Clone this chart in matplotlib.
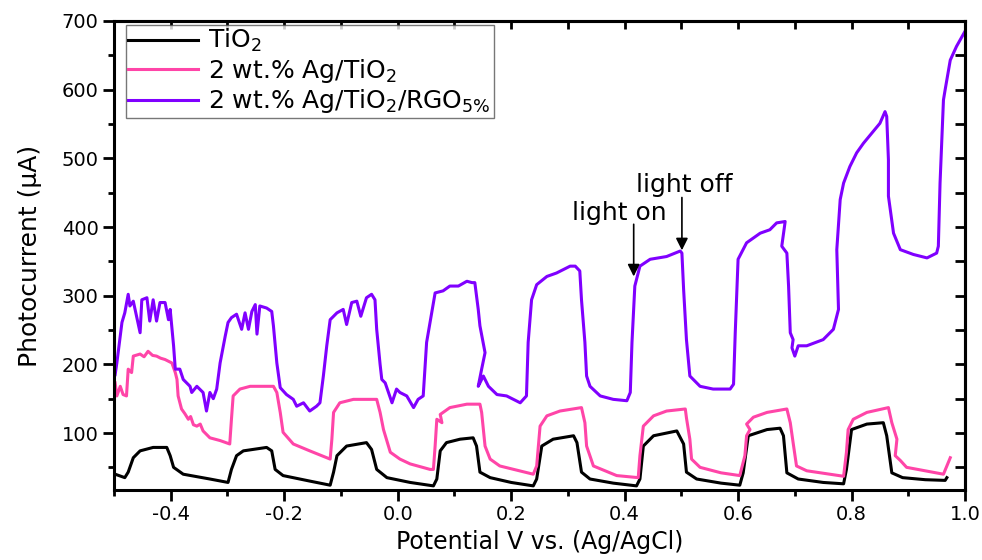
import numpy as np
import matplotlib
matplotlib.use("Agg")
import matplotlib.pyplot as plt

plt.rcParams['font.family'] = ['DejaVu Sans']
plt.rcParams['axes.unicode_minus'] = False

# --- TiO2 (black) ---
tio2_x = [-0.498, -0.481, -0.475, -0.466, -0.454, -0.431, -0.407, -0.401, -0.395, -0.378, -0.331, -0.299,
          -0.293, -0.284, -0.272, -0.231, -0.222, -0.216, -0.202, -0.155, -0.119,
          -0.113, -0.107, -0.090, -0.055, -0.046, -0.037, -0.019, 0.022, 0.063,
          0.069, 0.075, 0.086, 0.110, 0.133, 0.139, 0.145, 0.163, 0.200, 0.239,
          0.245, 0.254, 0.274, 0.310, 0.316, 0.324, 0.339, 0.380, 0.421,
          0.427, 0.433, 0.451, 0.492, 0.504, 0.509, 0.527, 0.570, 0.603,
          0.609, 0.618, 0.651, 0.674, 0.680, 0.686, 0.706, 0.750, 0.786,
          0.791, 0.800, 0.827, 0.856, 0.862, 0.871, 0.890, 0.930, 0.965, 0.968]
tio2_y = [40, 35, 43, 64, 74, 79, 79, 67, 50, 40, 33, 28,
          47, 67, 74, 79, 74, 47, 38, 30, 24,
          43, 67, 81, 86, 76, 47, 35, 28, 23,
          33, 74, 86, 91, 93, 81, 43, 35, 28, 23,
          33, 81, 91, 96, 86, 43, 33, 27, 23,
          33, 81, 96, 103, 84, 43, 33, 27, 24,
          42, 96, 105, 107, 96, 42, 33, 28, 26,
          47, 105, 113, 115, 96, 42, 35, 32, 31, 35]

# --- 2 wt.% Ag/TiO2 (pink) ---
ag_x = [-0.498, -0.495, -0.489, -0.484, -0.478, -0.475, -0.469, -0.466, -0.454, -0.447, -0.440, -0.432,
        -0.425, -0.418, -0.410, -0.398, -0.392, -0.389, -0.387, -0.381, -0.375, -0.369, -0.365, -0.360,
        -0.354, -0.348, -0.343, -0.331, -0.313, -0.296,
        -0.293, -0.290, -0.278, -0.260, -0.219, -0.213, -0.207, -0.202, -0.184, -0.155, -0.119,
        -0.116, -0.113, -0.102, -0.078, -0.037, -0.031, -0.025, -0.013, 0.004, 0.022, 0.057, 0.063,
        0.066, 0.069, 0.078, 0.075, 0.092, 0.122, 0.145, 0.148, 0.154, 0.163, 0.180, 0.239,
        0.245, 0.251, 0.263, 0.286, 0.324, 0.330, 0.333, 0.345, 0.386, 0.424,
        0.427, 0.433, 0.451, 0.474, 0.507, 0.509, 0.515, 0.518, 0.533, 0.570, 0.603,
        0.612, 0.615, 0.621, 0.615, 0.627, 0.651, 0.686, 0.692, 0.697, 0.703, 0.721, 0.786,
        0.791, 0.794, 0.803, 0.827, 0.865, 0.871, 0.880, 0.877, 0.886, 0.897, 0.962, 0.968, 0.974]
ag_y = [173, 154, 168, 156, 154, 193, 188, 212, 215, 211, 219, 213,
        212, 209, 207, 202, 188, 178, 154, 135, 128, 120, 124, 112,
        110, 113, 103, 93, 89, 84,
        120, 154, 164, 168, 168, 159, 130, 101, 84, 74, 62,
        91, 130, 144, 149, 149, 130, 105, 72, 62, 55, 47, 47,
        81, 120, 115, 127, 137, 142, 142, 130, 81, 62, 52, 40,
        52, 110, 125, 132, 137, 115, 81, 52, 38, 35,
        67, 110, 125, 132, 135, 122, 91, 62, 50, 42, 38,
        67, 96, 105, 113, 123, 130, 135, 115, 86, 52, 45, 37,
        72, 105, 120, 130, 137, 115, 91, 67, 60, 50, 40, 52, 64]

# --- 2 wt.% Ag/TiO2/RGO5% (purple) ---
rgo_x = [-0.498, -0.495, -0.486, -0.481, -0.475, -0.472, -0.466, -0.454, -0.451, -0.442, -0.437, -0.431,
         -0.425, -0.419, -0.410, -0.404, -0.401, -0.395, -0.392, -0.384, -0.378, -0.366, -0.363, -0.354,
         -0.343, -0.337, -0.331, -0.325, -0.319,
         -0.313, -0.304, -0.299, -0.293, -0.284, -0.275, -0.269, -0.263, -0.257, -0.251, -0.248, -0.243,
         -0.231, -0.222, -0.219, -0.213, -0.207, -0.196, -0.184, -0.178, -0.166, -0.155, -0.143, -0.137,
         -0.131, -0.125, -0.119, -0.107, -0.096, -0.090, -0.081, -0.072, -0.065, -0.055, -0.046, -0.040,
         -0.037, -0.031, -0.028, -0.022, -0.010, -0.002, 0.004, 0.016, 0.028, 0.036, 0.045,
         0.051, 0.060, 0.066, 0.080, 0.092, 0.107, 0.122, 0.131, 0.136, 0.142, 0.145, 0.154, 0.148,
         0.142, 0.151, 0.160, 0.175, 0.192, 0.216, 0.227,
         0.230, 0.236, 0.245, 0.263, 0.280, 0.304, 0.313, 0.321, 0.324, 0.330, 0.333, 0.339, 0.357,
         0.380, 0.404, 0.410,
         0.413, 0.418, 0.427, 0.445, 0.474, 0.498, 0.501, 0.504, 0.509, 0.515, 0.533, 0.556, 0.586,
         0.592,
         0.595, 0.600, 0.615, 0.639, 0.656, 0.668, 0.683, 0.677, 0.686, 0.689, 0.692, 0.697, 0.695,
         0.700, 0.706, 0.721, 0.750, 0.768, 0.777, 0.774, 0.780, 0.786, 0.797, 0.809, 0.821, 0.836,
         0.850, 0.859, 0.862, 0.865, 0.865, 0.874, 0.886, 0.909, 0.933, 0.950, 0.953, 0.956, 0.962,
         0.965, 0.974, 0.985, 1.000]
rgo_y = [185, 202, 261, 275, 302, 285, 292, 246, 294, 297, 263, 294,
         263, 290, 290, 265, 280, 227, 193, 193, 178, 168, 159, 168,
         159, 132, 159, 150, 164,
         202, 241, 261, 268, 273, 251, 275, 251, 277, 287, 244, 285,
         282, 277, 256, 202, 166, 156, 149, 139, 144, 132, 139, 144,
         183, 227, 265, 275, 280, 258, 290, 292, 270, 297, 302, 294,
         251, 200, 178, 173, 144, 164, 159, 154, 137, 149, 154,
         232, 275, 304, 307, 314, 314, 321, 319, 319, 280, 256, 217, 193,
         168, 183, 168, 156, 154, 144, 154,
         232, 294, 316, 328, 333, 343, 343, 336, 294, 232, 183, 168, 154,
         149, 147, 159,
         232, 314, 343, 353, 357, 365, 362, 309, 236, 183, 168, 164, 164,
         171,
         246, 353, 377, 391, 396, 406, 408, 372, 362, 314, 246, 236, 224,
         212, 227, 227, 236, 251, 280, 367, 440, 464, 488, 508, 522, 537,
         551, 568, 561, 498, 445, 391, 367, 360, 355, 362, 372, 464, 585,
         600, 643, 663, 685]

labels = ['TiO$_2$', '2 wt.% Ag/TiO$_2$', '2 wt.% Ag/TiO$_2$/RGO$_{5\\%}$']
colors = ['black', '#FF45A8', '#8000FF']

fig = plt.figure(figsize=(9.82, 5.6), dpi=100)
ax = fig.add_axes([0.1161, 0.125, 0.8666, 0.8375])

ax.plot(tio2_x, tio2_y, color=colors[0], lw=2.2, label=labels[0])
ax.plot(ag_x, ag_y, color=colors[1], lw=2.2, label=labels[1])
ax.plot(rgo_x, rgo_y, color=colors[2], lw=2.2, label=labels[2])

ax.set_xlim(-0.5, 1.0)
ax.set_ylim(17, 700)
ax.set_xticks(np.arange(-0.4, 1.01, 0.2))
ax.set_xticks(np.arange(-0.5, 1.01, 0.1), minor=True)
ax.set_yticks(np.arange(100, 701, 100))
ax.set_yticks(np.arange(50, 701, 50), minor=True)
ax.tick_params(which='major', direction='out', length=8, width=2, labelsize=14, pad=3)
ax.tick_params(which='minor', direction='out', length=4, width=2)
for s in ax.spines.values():
    s.set_linewidth(2.2)

# mirrored ticks (inward) on top and right
top = ax.secondary_xaxis('top')
top.set_xticks(np.arange(-0.5, 1.01, 0.1))
top.tick_params(direction='in', length=6, width=2, labeltop=False)
right = ax.secondary_yaxis('right')
right.set_yticks(np.arange(50, 701, 50))
right.tick_params(direction='in', length=7, width=2, labelright=False)
top.spines['top'].set_linewidth(2.2)
right.spines['right'].set_linewidth(2.2)

ax.set_xlabel('Potential V vs. (Ag/AgCl)', fontsize=17, labelpad=4)
ax.set_ylabel('Photocurrent (µA)', fontsize=18, labelpad=14)

leg = ax.legend(loc='upper left', bbox_to_anchor=(0.014, 0.992), fontsize=18,
                frameon=True, fancybox=False, edgecolor='#555555', handlelength=2.8,
                borderaxespad=0, borderpad=0.1, labelspacing=0.1, handletextpad=0.4)
leg.get_frame().set_linewidth(1.0)

ax.annotate('', xy=(0.416, 324), xytext=(0.416, 408),
            arrowprops=dict(arrowstyle='-|>', color='black', lw=1.2, mutation_scale=18))
ax.annotate('', xy=(0.501, 362), xytext=(0.501, 447),
            arrowprops=dict(arrowstyle='-|>', color='black', lw=1.2, mutation_scale=18))
ax.text(0.390, 420, 'light on', fontsize=18, ha='center', va='center')
ax.text(0.505, 461, 'light off', fontsize=18, ha='center', va='center')

fig.savefig('out.png', dpi=100)
